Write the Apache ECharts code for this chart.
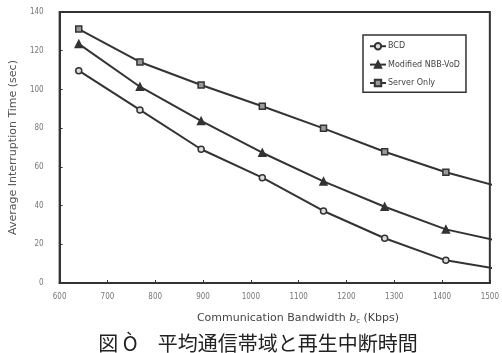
<!DOCTYPE html>
<html>
<head>
<meta charset="utf-8">
<script src="https://cdn.jsdelivr.net/npm/echarts@6/dist/echarts.min.js"></script>
<style>html,body{margin:0;padding:0;background:#fff}#c{width:502px;height:353px}</style>
</head>
<body>
<div id="c"></div>
<script>
const bandwidth = [640, 768, 896, 1024, 1152, 1280, 1408, 1536];
const bcd = [109.7, 89.4, 69.1, 54.4, 37.2, 23.1, 11.7, 6.4];
const nbb = [123.5, 101.4, 83.7, 67.3, 52.5, 39.4, 27.7, 20.8];
const serverOnly = [131.2, 114.2, 102.3, 91.3, 79.9, 67.8, 57.2, 48.6];
const seriesNames = ['BCD', 'Modified NBB-VoD', 'Server Only'];
const xTicks = [600, 700, 800, 900, 1000, 1100, 1200, 1300, 1400, 1500];
const yTicks = [0, 20, 40, 60, 80, 100, 120, 140];

const chart = echarts.init(document.getElementById('c'));
const pair = arr => bandwidth.map((x, i) => [x, arr[i]]);
const lineColor = '#333';
function mk(name, data, symbol, fill) {
  return {
    name, type: 'line', data: pair(data), clip: true,
    symbol, symbolSize: symbol === 'triangle' ? 7 : 6,
    showAllSymbol: true,
    lineStyle: { color: lineColor, width: 2 },
    itemStyle: { color: fill, borderColor: lineColor, borderWidth: 1.5 },
    emphasis: { disabled: true }, animation: false
  };
}
chart.setOption({
  animation: false,
  textStyle: { fontFamily: 'DejaVu Sans' },
  grid: { left: 42, right: 10, top: 12, bottom: 70, show: true, borderColor: '#333', borderWidth: 2 },
  title: [
    { text: '図 Ò　平均通信帯域と再生中断時間', left: 253, textAlign: 'center', top: 328,
      textStyle: { fontFamily: 'Noto Sans CJK JP', fontSize: 20, fontWeight: 'normal', color: '#222' } },
    { text: 'Communication Bandwidth {i|b}{s|c} (Kbps)', left: 293, textAlign: 'center', top: 307,
      textStyle: { fontFamily: 'DejaVu Sans', fontSize: 11, fontWeight: 'normal', color: '#444',
        rich: { i: { fontStyle: 'italic', fontSize: 11, color: '#444', fontFamily: 'DejaVu Serif' },
                s: { fontSize: 7, color: '#444', padding: [6, 0, 0, 0] } } } }
  ],
  legend: {
    orient: 'vertical', left: 363, top: 35,
    data: seriesNames,
    itemWidth: 16, itemHeight: 8, itemGap: 10,
    padding: [7, 6, 5, 6],
    borderColor: '#333', borderWidth: 1.5,
    textStyle: { fontSize: 8, color: '#444', padding: [0, 0, 0, -3] }
  },
  xAxis: {
    type: 'value', min: xTicks[0], max: xTicks[xTicks.length - 1], interval: 100,
    axisLine: { lineStyle: { color: '#333', width: 2 } },
    axisTick: { inside: true, length: 3, lineStyle: { color: '#333' } },
    axisLabel: { fontSize: 8, color: '#777', margin: 10, formatter: v => String(v),
      fontFamily: 'Liberation Sans Narrow, DejaVu Sans Condensed' },
    splitLine: { show: false }
  },
  yAxis: {
    type: 'value', min: yTicks[0], max: yTicks[yTicks.length - 1], interval: 20,
    name: 'Average Interruption Time (sec)', nameLocation: 'middle', nameGap: 29, nameRotate: 90,
    nameTextStyle: { fontSize: 11, color: '#555' },
    axisLine: { lineStyle: { color: '#333', width: 2 } },
    axisTick: { inside: true, length: 3, lineStyle: { color: '#333' } },
    axisLabel: { fontSize: 8, color: '#777', margin: 16, formatter: v => String(v),
      fontFamily: 'Liberation Sans Narrow, DejaVu Sans Condensed' },
    splitLine: { show: false }
  },
  series: [
    mk(seriesNames[0], bcd, 'circle', '#ddd'),
    mk(seriesNames[1], nbb, 'triangle', '#333'),
    mk(seriesNames[2], serverOnly, 'rect', '#999')
  ]
});
</script>
</body>
</html>
